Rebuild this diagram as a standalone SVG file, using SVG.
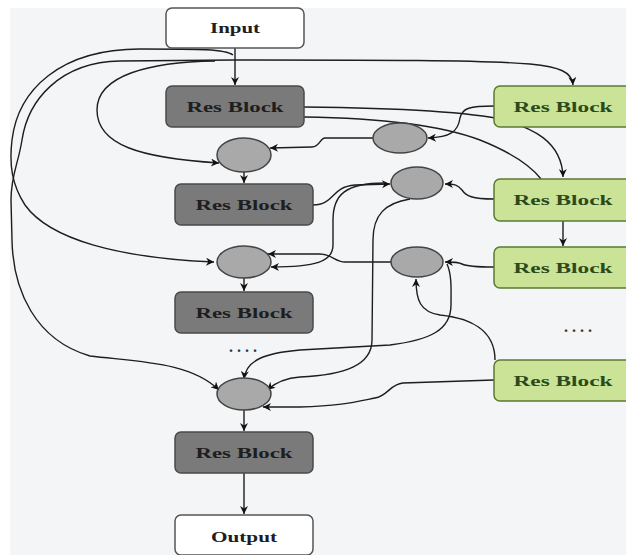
<svg xmlns="http://www.w3.org/2000/svg" width="626" height="555" viewBox="0 0 626 555">
<defs>
<marker id="ah" viewBox="0 0 10 10" refX="10" refY="5" markerWidth="10" markerHeight="8" markerUnits="userSpaceOnUse" orient="auto"><path d="M0,0 L10,5 L0,10 L3,5 z" fill="#111"/></marker>
<style>
.c{fill:none;stroke:#1e1e1e;stroke-width:1.4}
.a{marker-end:url(#ah)}
.dk{fill:#7a7a7a;stroke:#4a4a4a;stroke-width:1.5}
.wt{fill:#ffffff;stroke:#555555;stroke-width:1.5}
.gr{fill:#cbe396;stroke:#5b7a33;stroke-width:1.5}
.el{fill:#a9a9a9;stroke:#444444;stroke-width:1.5}
.t{font-family:"Liberation Serif","Times New Roman",serif;font-size:15px;font-weight:bold;text-anchor:middle}
.td{fill:#1e1e1e}
.tg{fill:#2b4a1c}
.dots{font-family:"Liberation Serif",serif;font-size:16px;font-weight:bold;fill:#333;letter-spacing:4px}
</style>
</defs>
<rect x="0" y="0" width="626" height="555" fill="#ffffff"/>
<rect x="10" y="8" width="616" height="547" fill="#f4f5f6"/>

<g id="connectors">
<path class="c a" d="M235,48 L235,85"/>
<path class="c a" d="M244,172 L244,183"/>
<path class="c a" d="M244,278 L244,291"/>
<path class="c a" d="M244,410 L244,431"/>
<path class="c a" d="M244,473 L244,514"/>
<path class="c a" d="M563,221 L563,246"/>
<path class="c a" d="M235,60 C380,60 480,60 530,64 C560,67 572,72 573,85"/>
<path class="c a" d="M233,55 C225,49 200,49 140,49 C60,49 18,90 12,140 C9,165 12,185 25,205 C50,240 120,258 214,262"/>
<path class="c a" d="M235,60 L120,61 C60,62 28,100 22,140 C18,165 11,175 11,200 L12,240 C13,290 35,340 90,356 C140,362 190,362 219,390"/>
<path class="c a" d="M215,61 C150,62 97,75 97,110 C97,145 140,158 219,163"/>
<path class="c a" d="M304,107 C400,108 470,112 505,120 C530,128 562,140 563,177"/>
<path class="c" d="M304,117 C380,118 440,125 480,140 C510,152 530,165 541,179"/>
<path class="c a" d="M494,106 C470,106 462,108 460,118 C458,132 450,137 428,138"/>
<path class="c a" d="M373,138 L325,138 C320,138 320,147 312,147 L270,148"/>
<path class="c a" d="M313,205 C335,205 330,187 355,185 L390,184"/>
<path class="c a" d="M385,183 C345,183 333,195 333,220 L333,245 C333,262 315,267 271,267"/>
<path class="c a" d="M391,262 L345,262 C335,262 332,254 320,254 L268,254"/>
<path class="c a" d="M494,199 C472,199 466,196 462,190 C458,185 455,184 445,184"/>
<path class="c a" d="M494,267 C472,267 466,266 462,264 C458,262 455,262 445,262"/>
<path class="c a" d="M410,199 C385,203 373,215 373,240 L372,340 C372,365 345,375 300,377 C285,378 275,383 267,390"/>
<path class="c a" d="M447,264 C452,275 451,290 451,305 C451,330 430,340 390,345 L300,350 C265,353 246,360 244,379"/>
<path class="c a" d="M495,360 C495,330 470,318 440,315 C420,312 416,300 416,279"/>
<path class="c a" d="M494,380 L403,383 C390,384 388,396 375,398 C355,402 340,406 300,407 L263,407"/>
</g>

<g id="input"><rect class="wt" x="166" y="8" width="138" height="40" rx="6"/><text class="t td" x="235" y="33" textLength="50" lengthAdjust="spacingAndGlyphs">Input</text></g>
<g id="res1"><rect class="dk" x="166" y="86" width="138" height="41" rx="6"/><text class="t td" x="235" y="112" textLength="97" lengthAdjust="spacingAndGlyphs">Res Block</text></g>
<g id="j1"><ellipse class="el" cx="244" cy="155" rx="27" ry="17"/></g>
<g id="res2"><rect class="dk" x="175" y="184" width="138" height="41" rx="6"/><text class="t td" x="244" y="210" textLength="97" lengthAdjust="spacingAndGlyphs">Res Block</text></g>
<g id="j2"><ellipse class="el" cx="244" cy="262" rx="27" ry="16"/></g>
<g id="res3"><rect class="dk" x="175" y="292" width="138" height="41" rx="6"/><text class="t td" x="244" y="318" textLength="97" lengthAdjust="spacingAndGlyphs">Res Block</text></g>
<text class="dots" x="229" y="352">....</text>
<g id="j4"><ellipse class="el" cx="244" cy="394" rx="27" ry="16"/></g>
<g id="res4"><rect class="dk" x="175" y="432" width="138" height="41" rx="6"/><text class="t td" x="244" y="458" textLength="97" lengthAdjust="spacingAndGlyphs">Res Block</text></g>
<g id="output"><rect class="wt" x="175" y="515" width="138" height="40" rx="6"/><text class="t td" x="244" y="542" textLength="66" lengthAdjust="spacingAndGlyphs">Output</text></g>

<g id="ja"><ellipse class="el" cx="400" cy="138" rx="27" ry="15"/></g>
<g id="jb"><ellipse class="el" cx="417" cy="183" rx="26" ry="16"/></g>
<g id="jc"><ellipse class="el" cx="417" cy="262" rx="26" ry="15"/></g>

<g id="g1"><rect class="gr" x="494" y="86" width="140" height="41" rx="6"/><text class="t tg" x="563" y="112" textLength="99" lengthAdjust="spacingAndGlyphs">Res Block</text></g>
<g id="g2"><rect class="gr" x="494" y="179" width="140" height="42" rx="6"/><text class="t tg" x="563" y="205" textLength="99" lengthAdjust="spacingAndGlyphs">Res Block</text></g>
<g id="g3"><rect class="gr" x="494" y="247" width="140" height="41" rx="6"/><text class="t tg" x="563" y="273" textLength="99" lengthAdjust="spacingAndGlyphs">Res Block</text></g>
<text class="dots" x="564" y="332">....</text>
<g id="g4"><rect class="gr" x="494" y="360" width="140" height="41" rx="6"/><text class="t tg" x="563" y="386" textLength="99" lengthAdjust="spacingAndGlyphs">Res Block</text></g>
</svg>
